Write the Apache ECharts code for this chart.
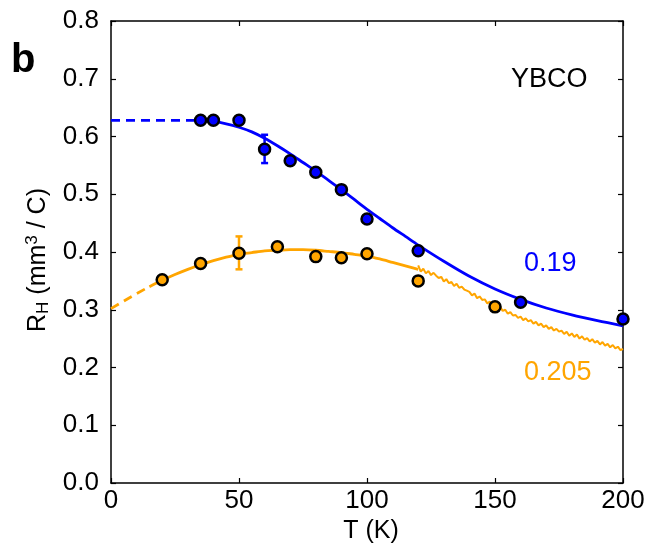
<!DOCTYPE html>
<html>
<head>
<meta charset="utf-8">
<script src="https://cdn.jsdelivr.net/npm/echarts@6/dist/echarts.min.js"></script>
<style>html,body{margin:0;padding:0;background:#fff}#c{width:662px;height:554px}</style>
</head>
<body>
<div id="c"></div>
<script>
// ---- data ----
const xTicks = [0, 50, 100, 150, 200];
const yTicks = [0.0, 0.1, 0.2, 0.3, 0.4, 0.5, 0.6, 0.7, 0.8];

// p = 0.19 (blue) measured points
const blueT = [35, 40, 50, 60, 70, 80, 90, 100, 120, 160, 200];
const blueR = [0.628, 0.628, 0.628, 0.578, 0.558, 0.538, 0.508, 0.457, 0.402, 0.313, 0.284];
const blueErr = [[60, 0.554, 0.603]];

// p = 0.205 (orange) measured points
const orangeT = [20, 35, 50, 65, 80, 90, 100, 120, 150];
const orangeR = [0.352, 0.380, 0.398, 0.409, 0.392, 0.390, 0.397, 0.350, 0.305];
const orangeErr = [[50, 0.370, 0.427]];

// blue fit curve (solid) and extrapolation (dashed)
const blueFitT = [35, 40, 45, 50, 55, 60, 65, 70, 75, 80, 85, 90, 95, 100, 105, 110, 115, 120, 130, 140, 150, 160, 170, 180, 190, 200];
const blueFitR = [0.628, 0.626, 0.622, 0.616, 0.608, 0.597, 0.584, 0.570, 0.555, 0.540, 0.524, 0.508, 0.491, 0.474, 0.458, 0.442, 0.427, 0.412, 0.384, 0.358, 0.336, 0.318, 0.303, 0.291, 0.281, 0.272];
const blueDashT = [0, 35];
const blueDashR = [0.628, 0.628];

// orange fit curve (solid) and extrapolation (dashed)
const orangeFitT = [15, 20, 25, 30, 35, 40, 45, 50, 55, 60, 65, 70, 75, 80, 85, 90, 95, 100, 105, 110, 115, 120];
const orangeFitR = [0.340, 0.351, 0.361, 0.370, 0.378, 0.385, 0.391, 0.396, 0.399, 0.402, 0.403, 0.404, 0.404, 0.403, 0.401, 0.399, 0.396, 0.393, 0.388, 0.382, 0.376, 0.370];
const orangeDashT = [0, 5, 10, 15];
const orangeDashR = [0.302, 0.315, 0.328, 0.340];

// orange high-field measured trace, 120..200 K in 1 K steps
const orangeTraceStart = 120;
const orangeTraceR = [
  0.377, 0.366, 0.371, 0.363, 0.367, 0.360, 0.364, 0.359, 0.355, 0.357,
  0.349, 0.353, 0.346, 0.348, 0.341, 0.345, 0.338, 0.340, 0.335, 0.333,
  0.331, 0.325, 0.328, 0.320, 0.323, 0.317, 0.318, 0.311, 0.314, 0.307,
  0.308, 0.300, 0.305, 0.298, 0.300, 0.293, 0.296, 0.290, 0.291, 0.286,
  0.288, 0.282, 0.285, 0.280, 0.282, 0.276, 0.279, 0.273, 0.276, 0.270,
  0.273, 0.267, 0.270, 0.264, 0.267, 0.262, 0.264, 0.258, 0.262, 0.255,
  0.259, 0.253, 0.257, 0.250, 0.254, 0.248, 0.251, 0.245, 0.249, 0.243,
  0.246, 0.240, 0.244, 0.238, 0.241, 0.235, 0.239, 0.233, 0.236, 0.230,
  0.232
];

const labels = { blue: '0.19', orange: '0.205', material: 'YBCO', panel: 'b' };

// ---- build ----
const BLUE = '#0000ff', ORANGE = '#ffa500';
const FONT = 'Liberation Sans, Arial, sans-serif';
const zip = (a, b) => a.map((v, i) => [v, b[i]]);
const trace = orangeTraceR.map((v, i) => [orangeTraceStart + i, v]);

function errSeries(data, color) {
  return {
    type: 'custom', z: 3, data: data,
    renderItem: function (params, api) {
      const x = api.value(0), lo = api.value(1), hi = api.value(2);
      const a = api.coord([x, lo]), b = api.coord([x, hi]);
      const w = 3.5;
      const st = { stroke: color, lineWidth: 2.5 };
      return { type: 'group', children: [
        { type: 'line', shape: { x1: a[0], y1: a[1], x2: b[0], y2: b[1] }, style: st },
        { type: 'line', shape: { x1: a[0] - w, y1: a[1], x2: a[0] + w, y2: a[1] }, style: st },
        { type: 'line', shape: { x1: b[0] - w, y1: b[1], x2: b[0] + w, y2: b[1] }, style: st }
      ]};
    }
  };
}

const axisCommon = {
  type: 'value', min: 0,
  axisLine: { show: true, onZero: false, lineStyle: { color: '#000', width: 1.5 } },
  axisTick: { show: true, inside: true, length: 5, lineStyle: { color: '#000', width: 1.2 } },
  splitLine: { show: false }
};

const option = {
  animation: false,
  backgroundColor: '#fff',
  grid: { left: 111, right: 39, top: 21, bottom: 71 },
  xAxis: [
    Object.assign({}, axisCommon, {
      max: 200, interval: 50, position: 'bottom',
      axisLabel: { color: '#000', fontSize: 26, fontFamily: FONT, margin: 5 },
      name: 'T (K)', nameLocation: 'middle', nameGap: 36,
      nameTextStyle: { color: '#000', fontSize: 25, fontFamily: FONT, padding: [0, 0, 0, 8] }
    }),
    Object.assign({}, axisCommon, {
      max: 200, interval: 50, position: 'top', axisLabel: { show: false }
    })
  ],
  yAxis: [
    Object.assign({}, axisCommon, {
      max: 0.8, interval: 0.1, position: 'left',
      axisLabel: { color: '#000', fontSize: 26, fontFamily: FONT, margin: 12,
        formatter: v => v.toFixed(1) },
      name: 'R{sub|H} (mm{sup|3} / C)', nameLocation: 'middle', nameGap: 57, nameRotate: 90,
      nameTextStyle: { color: '#000', fontSize: 25, fontFamily: FONT, padding: [0, 16, 0, 0],
        rich: {
          sub: { fontSize: 17, fontFamily: FONT, color: '#000', padding: [10, 0, 0, 0] },
          sup: { fontSize: 17, fontFamily: FONT, color: '#000', padding: [0, 0, 12, 0] }
        } }
    }),
    Object.assign({}, axisCommon, {
      max: 0.8, interval: 0.1, position: 'right', axisLabel: { show: false }
    })
  ],
  series: [
    { type: 'line', data: zip(blueDashT, blueDashR), showSymbol: false, z: 2,
      lineStyle: { color: BLUE, width: 2.8, type: [9, 6] } },
    { type: 'line', data: zip(blueFitT, blueFitR), showSymbol: false, smooth: 0.3, z: 2,
      lineStyle: { color: BLUE, width: 2.8 } },
    { type: 'line', data: zip(orangeDashT, orangeDashR), showSymbol: false, z: 2,
      lineStyle: { color: ORANGE, width: 2.8, type: [9, 6] } },
    { type: 'line', data: zip(orangeFitT, orangeFitR), showSymbol: false, smooth: 0.3, z: 2,
      lineStyle: { color: ORANGE, width: 2.8 } },
    { type: 'line', data: trace, showSymbol: false, z: 2,
      lineStyle: { color: ORANGE, width: 2 } },
    errSeries(blueErr, BLUE),
    errSeries(orangeErr, ORANGE),
    { type: 'scatter', data: zip(blueT, blueR), symbolSize: 11, z: 5,
      itemStyle: { color: BLUE, borderColor: '#000', borderWidth: 2.5, opacity: 1 } },
    { type: 'scatter', data: zip(orangeT, orangeR), symbolSize: 11, z: 5,
      itemStyle: { color: ORANGE, borderColor: '#000', borderWidth: 2.5, opacity: 1 } }
  ],
  graphic: [
    { type: 'text', left: 11, top: 41, style: { text: labels.panel, fontSize: 40, fontWeight: 'bold', fontFamily: FONT, fill: '#000' } },
    { type: 'text', left: 511, top: 66, style: { text: labels.material, fontSize: 27, fontFamily: FONT, fill: '#000' } },
    { type: 'text', left: 524, top: 250, style: { text: labels.blue, fontSize: 27, fontFamily: FONT, fill: BLUE } },
    { type: 'text', left: 524, top: 359, style: { text: labels.orange, fontSize: 27, fontFamily: FONT, fill: ORANGE } }
  ]
};

const chart = echarts.init(document.getElementById('c'), null, { renderer: 'canvas' });
chart.setOption(option);
</script>
</body>
</html>
